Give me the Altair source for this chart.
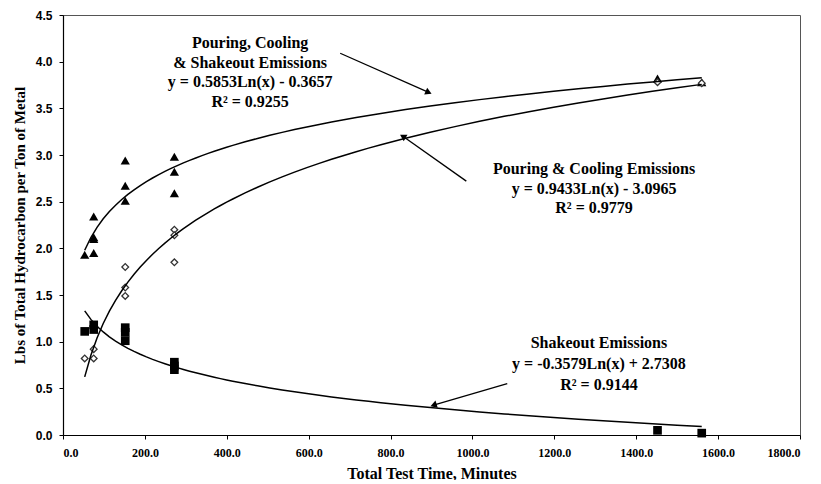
import altair as alt
import pandas as pd

# ---- data ----
time_pcs = [53, 75, 75, 75, 75, 152, 152, 152, 272, 272, 272, 1452, 1560]
lbs_pcs = [1.93, 1.95, 2.10, 2.12, 2.34, 2.51, 2.67, 2.94, 2.59, 2.82, 2.98, 3.82, 3.78]

time_pc = [53, 75, 75, 152, 152, 152, 272, 272, 272, 1452, 1560]
lbs_pc = [0.82, 0.82, 0.92, 1.80, 1.58, 1.49, 1.85, 2.20, 2.14, 3.78, 3.77]

time_sk = [53, 75, 75, 152, 152, 152, 272, 272, 272, 1452, 1560]
lbs_sk = [1.11, 1.13, 1.18, 1.01, 1.10, 1.15, 0.70, 0.74, 0.78, 0.05, 0.02]

x_ticks = [0, 200, 400, 600, 800, 1000, 1200, 1400, 1600, 1800]
y_ticks = [0.0, 0.5, 1.0, 1.5, 2.0, 2.5, 3.0, 3.5, 4.0, 4.5]

# annotation text
note_text = [
    "Pouring, Cooling", "& Shakeout Emissions", "y = 0.5853Ln(x) - 0.3657", "R² = 0.9255",
    "Pouring & Cooling Emissions", "y = 0.9433Ln(x) - 3.0965", "R² = 0.9779",
    "Shakeout Emissions", "y = -0.3579Ln(x) + 2.7308", "R² = 0.9144",
]
note_x = [457, 457, 457, 457, 1297, 1297, 1297, 1309, 1309, 1309]
note_y = [4.20, 3.99, 3.78, 3.57, 2.85, 2.64, 2.43, 0.99, 0.76, 0.54]

# arrows: tail -> head
arrow_id = ["a", "a", "b", "b", "c", "c"]
arrow_x = [677, 893, 985, 830, 1085, 905]
arrow_y = [4.09, 3.67, 2.72, 3.20, 0.55, 0.32]
head_x = [893, 830, 905]
head_y = [3.67, 3.20, 0.32]
head_angle = [114, 301, 252]

series = (["pcs"] * len(time_pcs)) + (["pc"] * len(time_pc)) + (["sk"] * len(time_sk))
df = pd.DataFrame({
    "time": time_pcs + time_pc + time_sk,
    "lbs": lbs_pcs + lbs_pc + lbs_sk,
    "series": series,
})
notes = pd.DataFrame({"text": note_text, "x": note_x, "y": note_y})
arrows = pd.DataFrame({"id": arrow_id, "x": arrow_x, "y": arrow_y})
heads = pd.DataFrame({"x": head_x, "y": head_y, "angle": head_angle})

SERIF = "Liberation Serif"
SANS = "Liberation Sans"

xscale = alt.Scale(domain=[0, 1800], nice=False, zero=True)
yscale = alt.Scale(domain=[0, 4.5], nice=False, zero=True)

xaxis = alt.Axis(values=x_ticks, format=".1f", title="Total Test Time, Minutes",
                 labelFont=SERIF, labelFontSize=12, labelFontWeight="bold",
                 labelPadding=8, tickSize=4, titleFont=SERIF, titleFontSize=16,
                 titleFontWeight="bold", titlePadding=7, labelColor="black",
                 titleColor="black")
yaxis = alt.Axis(values=y_ticks, format=".1f",
                 title="Lbs of Total Hydrocarbon per Ton of Metal",
                 labelFont=SANS, labelFontSize=12, labelFontWeight="bold",
                 labelPadding=7, tickSize=4, titleFont=SERIF, titleFontSize=15,
                 titleFontWeight="bold", titlePadding=8, labelColor="black",
                 titleColor="black")

base = alt.Chart(df)
X = alt.X("time:Q", scale=xscale, axis=xaxis)
Y = alt.Y("lbs:Q", scale=yscale, axis=yaxis)

tri = base.transform_filter(alt.datum.series == "pcs").mark_point(
    shape="triangle-up", filled=True, color="black", size=85, opacity=1
).encode(x=X, y=Y)

dia = base.transform_filter(alt.datum.series == "pc").mark_point(
    shape="diamond", filled=False, fill="white", stroke="#333", strokeWidth=1.3,
    size=45, opacity=1
).encode(x=X, y=Y)

sq = base.transform_filter(alt.datum.series == "sk").mark_point(
    shape="square", filled=True, color="black", size=75, opacity=1
).encode(x=X, y=Y)

curves = base.transform_regression(
    regression="lbs", on="time", method="log", groupby=["series"]
).mark_line(color="black", strokeWidth=1.5).encode(
    x=X, y=Y, detail="series:N"
)

note_layer = alt.Chart(notes).mark_text(
    font=SERIF, fontSize=16, fontWeight="bold", color="black", align="center",
    baseline="middle"
).encode(x=alt.X("x:Q", scale=xscale), y=alt.Y("y:Q", scale=yscale), text="text:N")

arrow_lines = alt.Chart(arrows).mark_line(color="black", strokeWidth=1.3).encode(
    x=alt.X("x:Q", scale=xscale), y=alt.Y("y:Q", scale=yscale), detail="id:N"
)

arrow_heads = alt.Chart(heads).mark_point(
    shape="triangle-up", filled=True, color="black", size=55, opacity=1
).encode(
    x=alt.X("x:Q", scale=xscale), y=alt.Y("y:Q", scale=yscale),
    angle=alt.Angle("angle:Q", scale=None)
)

chart = alt.layer(tri, dia, sq, curves, arrow_lines, arrow_heads, note_layer).properties(
    width=737, height=420,
    padding={"left": 55, "top": 7, "right": 13, "bottom": 45},
    autosize=alt.AutoSizeParams(type="none"),
    background="white",
).configure_view(stroke="#555", strokeWidth=1).configure_axis(
    grid=False, domainColor="black", tickColor="black", domainWidth=1.2
)

chart.save("out.html", embed_options={"renderer": "svg", "actions": False})
